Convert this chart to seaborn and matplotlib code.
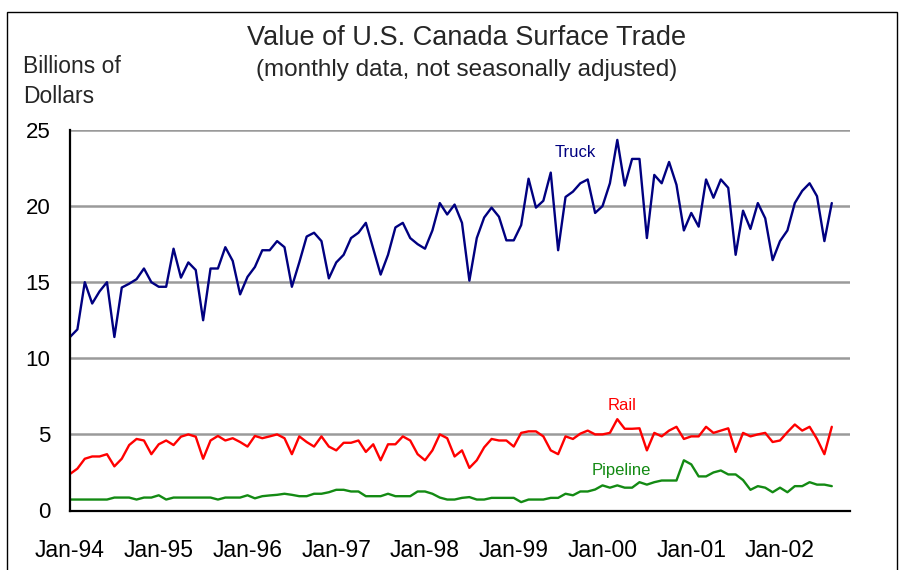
import numpy as np
import pandas as pd
import matplotlib
matplotlib.use("Agg")
import matplotlib.pyplot as plt
from matplotlib.patches import Rectangle
import seaborn as sns

# Monthly values, billions of dollars, Jan-1994 through Aug-2002
truck = [
    11.4, 11.9, 15.0, 13.6, 14.4, 15.0, 11.4, 14.65, 14.9, 15.2, 15.9, 15.0,
    14.7, 14.7, 17.2, 15.3, 16.3, 15.8, 12.5, 15.9, 15.9, 17.3, 16.4, 14.2,
    15.35, 16.0, 17.1, 17.1, 17.7, 17.3, 14.7, 16.3, 18.0, 18.25, 17.7, 15.25,
    16.3, 16.8, 17.9, 18.25, 18.9, 17.2, 15.5, 16.8, 18.6, 18.9, 17.9, 17.5,
    17.2, 18.4, 20.2, 19.45, 20.1, 18.9, 15.1, 17.9, 19.25, 19.9, 19.3, 17.75,
    17.75, 18.75, 21.8, 19.9, 20.35, 22.2, 17.1, 20.6, 20.95, 21.5, 21.75, 19.55,
    20.0, 21.5, 24.35, 21.35, 23.1, 23.1, 17.9, 22.05, 21.5, 22.9, 21.4, 18.4,
    19.55, 18.65, 21.75, 20.55, 21.75, 21.2, 16.8, 19.7, 18.5, 20.2, 19.2, 16.45,
    17.7, 18.4, 20.2, 21.0, 21.5, 20.65, 17.7, 20.2,
]
rail = [
    2.4, 2.75, 3.4, 3.55, 3.55, 3.7, 2.9, 3.4, 4.3, 4.7, 4.6, 3.7,
    4.35, 4.6, 4.3, 4.85, 5.0, 4.85, 3.4, 4.6, 4.9, 4.6, 4.75, 4.5,
    4.2, 4.9, 4.75, 4.87, 5.0, 4.75, 3.7, 4.87, 4.5, 4.2, 4.87, 4.2,
    3.95, 4.45, 4.45, 4.6, 3.85, 4.35, 3.3, 4.35, 4.35, 4.87, 4.6, 3.7,
    3.3, 3.95, 5.0, 4.75, 3.55, 3.95, 2.8, 3.3, 4.15, 4.7, 4.6, 4.6,
    4.2, 5.1, 5.2, 5.2, 4.87, 3.95, 3.7, 4.87, 4.7, 5.05, 5.25, 5.0,
    5.0, 5.1, 6.0, 5.37, 5.37, 5.4, 3.95, 5.1, 4.87, 5.25, 5.5, 4.7,
    4.87, 4.87, 5.5, 5.1, 5.25, 5.4, 3.85, 5.1, 4.87, 5.0, 5.1, 4.5,
    4.6, 5.15, 5.65, 5.25, 5.5, 4.7, 3.7, 5.5,
]
pipeline = [
    0.72, 0.72, 0.72, 0.72, 0.72, 0.72, 0.85, 0.85, 0.85, 0.72, 0.85, 0.85,
    1.0, 0.72, 0.85, 0.85, 0.85, 0.85, 0.85, 0.85, 0.72, 0.85, 0.85, 0.85,
    1.0, 0.8, 0.94, 0.99, 1.03, 1.1, 1.03, 0.94, 0.94, 1.1, 1.1, 1.2,
    1.36, 1.36, 1.25, 1.25, 0.94, 0.94, 0.94, 1.1, 0.94, 0.94, 0.94, 1.25,
    1.25, 1.1, 0.85, 0.72, 0.72, 0.83, 0.88, 0.72, 0.72, 0.83, 0.83, 0.83,
    0.83, 0.55, 0.72, 0.72, 0.72, 0.83, 0.83, 1.1, 1.0, 1.25, 1.25, 1.38,
    1.65, 1.5, 1.65, 1.5, 1.5, 1.86, 1.7, 1.86, 1.97, 1.97, 1.97, 3.3,
    3.03, 2.24, 2.24, 2.5, 2.63, 2.37, 2.37, 2.0, 1.36, 1.6, 1.5, 1.2,
    1.5, 1.2, 1.6, 1.6, 1.86, 1.7, 1.7, 1.6,
]
modes = ["Truck", "Rail", "Pipeline"]
year_labels = ["Jan-94", "Jan-95", "Jan-96", "Jan-97", "Jan-98",
               "Jan-99", "Jan-00", "Jan-01", "Jan-02"]
y_ticks = [0, 5, 10, 15, 20, 25]

colors = {"Truck": "#000080", "Rail": "#ff0000", "Pipeline": "#138a13"}

months = np.arange(len(truck))
df = pd.DataFrame({
    "month": np.concatenate([months, months, months]),
    "value": truck + rail + pipeline,
    "mode": np.repeat(modes, len(truck)),
})

sns.set_style("white")
plt.rcParams["font.family"] = ["Liberation Sans", "DejaVu Sans"]

fig = plt.figure(figsize=(9, 5.7), dpi=100)
ax = fig.add_axes([70 / 900, 1 - 510.5 / 570, 780 / 900, (510.5 - 130) / 570])

sns.lineplot(data=df, x="month", y="value", hue="mode", palette=colors,
             legend=False, linewidth=1.7, ax=ax, zorder=3)

ax.set_xlim(0, 780 / 7.396)
ax.set_ylim(0, 25)
ax.set_yticks(y_ticks)
ax.set_yticklabels([str(v) for v in y_ticks])
ax.set_xticks(np.arange(len(year_labels)) * 12)
ax.set_xticklabels(year_labels)
ax.set_xlabel("")
ax.set_ylabel("")

for v in y_ticks[1:]:
    ax.axhline(v, color="#9a9a9a", linewidth=1.8, zorder=1)

for side in ["top", "right"]:
    ax.spines[side].set_visible(False)
for side in ["left", "bottom"]:
    ax.spines[side].set_color("black")
    ax.spines[side].set_linewidth(1.6)
    ax.spines[side].set_zorder(4)

ax.tick_params(axis="x", direction="inout", length=9, width=1.5,
               colors="black", labelsize=16.5, pad=16)
ax.tick_params(axis="y", direction="out", length=5, width=1.5,
               colors="black", labelsize=16, pad=9)

# Series labels next to their lines
ax.text(68.3, 23.5, "Truck", color=colors["Truck"], fontsize=12,
        ha="center", va="center")
ax.text(74.7, 6.9, "Rail", color=colors["Rail"], fontsize=12,
        ha="center", va="center")
ax.text(74.6, 2.65, "Pipeline", color=colors["Pipeline"], fontsize=12,
        ha="center", va="center")

fig.text(467 / 900, 1 - 38 / 570, "Value of U.S. Canada Surface Trade",
         ha="center", va="center", fontsize=19.5)
fig.text(467 / 900, 1 - 70 / 570, "(monthly data, not seasonally adjusted)",
         ha="center", va="center", fontsize=17.5)
fig.text(23 / 900, 1 - 72.7 / 570, "Billions of", ha="left",
         va="baseline", fontsize=16.5)
fig.text(23 / 900, 1 - 103.3 / 570, "Dollars", ha="left",
         va="baseline", fontsize=16.5)

# Outer frame, open at the bottom edge of the image
fig.add_artist(Rectangle((7 / 900, -0.1), 890 / 900, 1 - 12 / 570 + 0.1,
                         fill=False, edgecolor="black", linewidth=1,
                         transform=fig.transFigure, clip_on=False))

fig.savefig("out.png", dpi=100, facecolor="white")
